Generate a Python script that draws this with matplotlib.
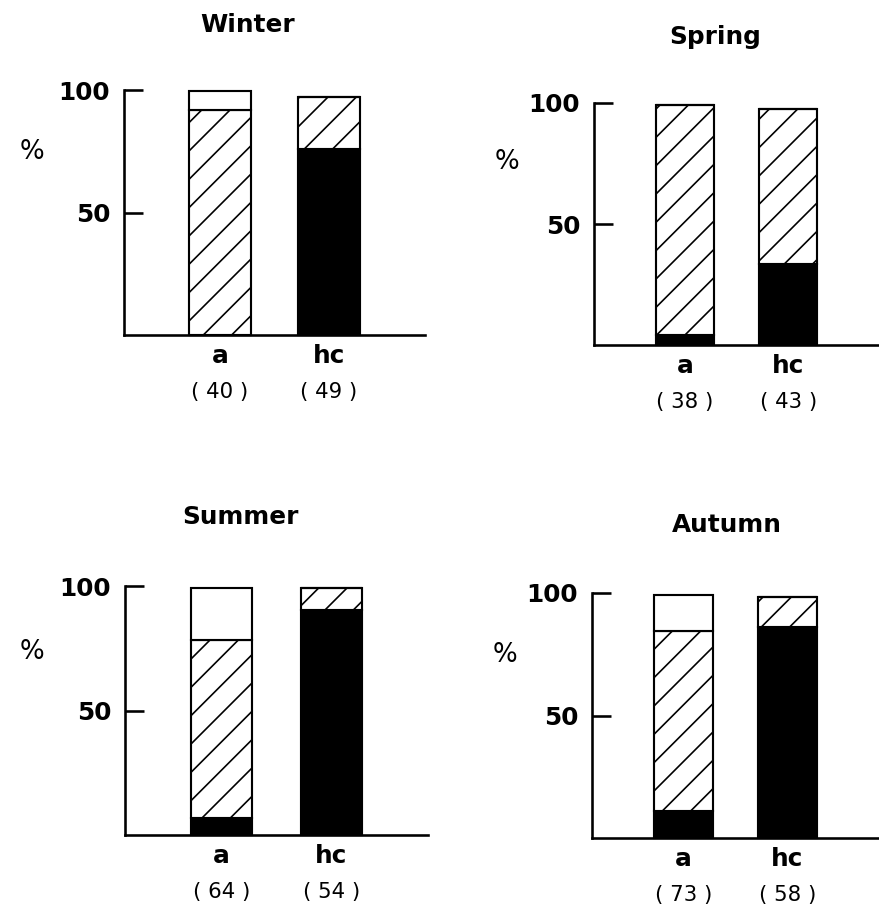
import numpy as np
import matplotlib.pyplot as plt

seasons = ['Winter', 'Spring', 'Summer', 'Autumn']
groups = ['a', 'hc']

# percentages, one value per season (Winter, Spring, Summer, Autumn)
black_a = [0, 4, 7, 11]
black_hc = [76, 33.5, 90.5, 86]
hatch_a = [92, 95, 71.5, 73.5]
hatch_hc = [21, 64, 8.5, 12.5]
white_a = [7.5, 0, 20.5, 14.5]
white_hc = [0, 0, 0, 0]
n_a = [40, 38, 64, 73]
n_hc = [49, 43, 54, 58]

W, H, DPI = 879, 908, 170
plt.rcParams['font.family'] = ['DejaVu Sans']
plt.rcParams['hatch.linewidth'] = 0.7
fig = plt.figure(figsize=(W / DPI, H / DPI), dpi=DPI)

# axes boxes in pixels: left, right, y of 0 %, y of 100 %
boxes = [(124, 425, 335, 90), (594, 879, 345, 103),
         (125, 428, 835, 586), (592, 879, 838, 593)]
title_xy = [(248, 25), (715, 37), (240, 517), (727, 525)]
pct_xy = [(32, 152), (507, 162), (32, 652), (505, 655)]


def pt(n):
    # pixels -> points
    return n * 72 / DPI


for i, s in enumerate(seasons):
    l, r, y0, y1 = boxes[i]
    ax = fig.add_axes([l / W, 1 - y0 / H, (r - l) / W, (y0 - y1) / H])
    x = np.arange(len(groups))
    blk = [black_a[i], black_hc[i]]
    hat = [hatch_a[i], hatch_hc[i]]
    wht = [white_a[i], white_hc[i]]
    ax.bar(x, blk, 0.56, color='black', edgecolor='black', lw=0.9, clip_on=False)
    ax.bar(x, hat, 0.56, bottom=blk, color='white', edgecolor='black',
           hatch='//', lw=0.9, clip_on=False)
    ax.bar(x, wht, 0.56, bottom=np.add(blk, hat), color='white',
           edgecolor='black', lw=0.9, clip_on=False)

    ax.set_xlim(-0.88, 1.88)
    ax.set_ylim(0, 100)
    for sp in ['top', 'right']:
        ax.spines[sp].set_visible(False)
    ax.spines['left'].set_bounds(0, 100)
    ax.spines['left'].set_linewidth(1.1)
    ax.spines['bottom'].set_linewidth(1.1)
    ax.set_yticks([50, 100])
    ax.set_yticklabels(['50', '100'], fontsize=10.5, fontweight='bold')
    ax.tick_params(axis='y', direction='in', length=pt(19), width=1.1, pad=pt(14))
    ax.set_xticks([])

    n = [n_a[i], n_hc[i]]
    for j, g in enumerate(groups):
        ax.annotate(g, (j, 0), xytext=(0, -pt(28)), textcoords='offset points',
                    ha='center', va='baseline', fontsize=10.5, fontweight='bold')
        ax.annotate('( %d )' % n[j], (j, 0), xytext=(0, -pt(63)),
                    textcoords='offset points', ha='center', va='baseline',
                    fontsize=9)

    tx, ty = title_xy[i]
    fig.text(tx / W, 1 - ty / H, s, ha='center', va='center',
             fontsize=10.5, fontweight='bold')
    px_, py_ = pct_xy[i]
    fig.text(px_ / W, 1 - py_ / H, '%', ha='center', va='center', fontsize=11)

plt.savefig('out.png', dpi=DPI)
